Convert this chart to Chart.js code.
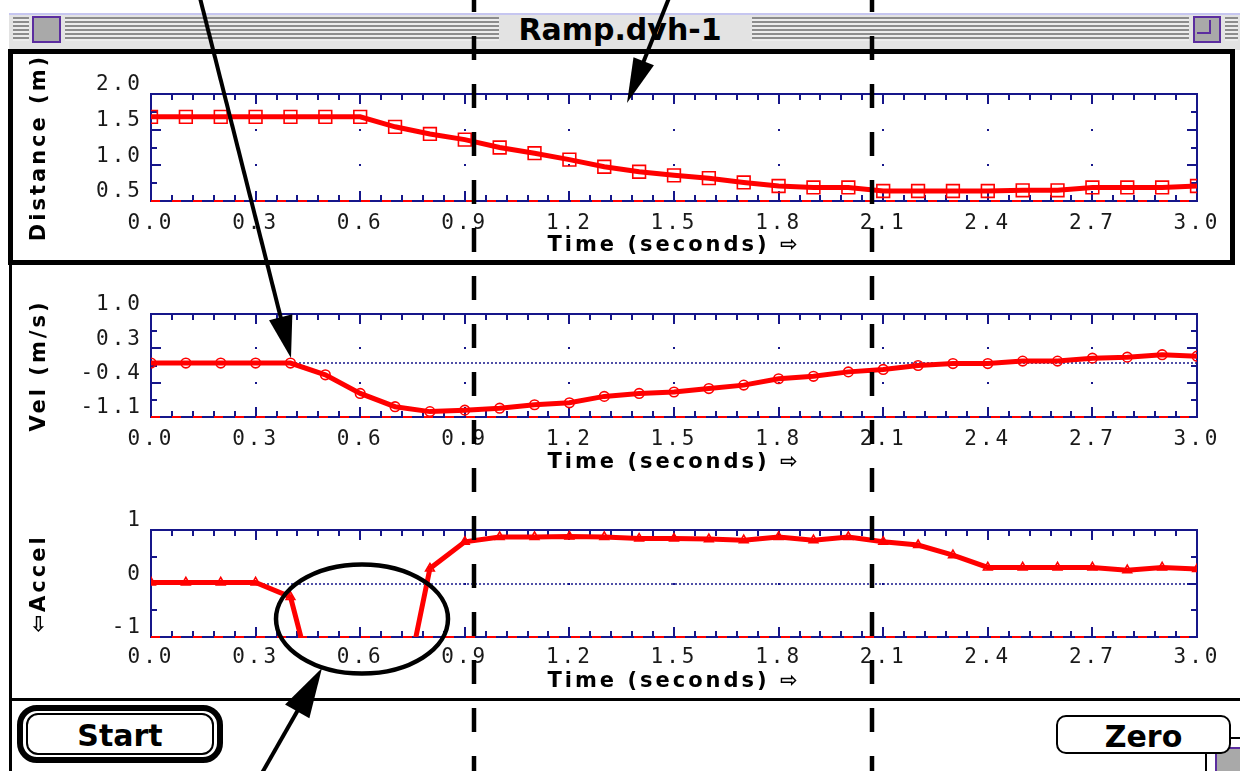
<!DOCTYPE html>
<html>
<head>
<meta charset="utf-8">
<title>Ramp.dvh-1</title>
<script src="https://cdn.jsdelivr.net/npm/chart.js@4.4.1/dist/chart.umd.min.js"></script>
<style>
  html, body { margin:0; padding:0; background:#fff; }
  body { width:1240px; height:771px; position:relative; overflow:hidden; font-family:'DejaVu Sans', sans-serif; }
  .abs { position:absolute; box-sizing:border-box; }
  #tbbg { left:9px; top:13px; width:1231px; height:37px; background:#e3e3e3; border-top:2px solid #c6c6f0; }
  .stripes { position:absolute; top:17px; height:24px;
    background:repeating-linear-gradient(to bottom, #8c8c8c 0px, #8c8c8c 2px, #ececec 2px, #ececec 4px); }
  .wbox { position:absolute; box-sizing:border-box; border:2px solid #5b2d9f; background:#a9a9a9; }
  #title { left:420px; width:400px; top:11px; height:36px; display:flex; align-items:center; justify-content:center;
    font-weight:bold; font-size:30px; color:#000; }
  #pane { left:8px; top:49px; width:1227px; height:216px; border:5px solid #000; }
  #wleft { left:9px; top:265px; width:3px; height:506px; background:#000; }
  #sep { left:9px; top:698px; width:1231px; height:3px; background:#000; }
  .btn { position:absolute; box-sizing:border-box; display:flex; align-items:center; justify-content:center;
    font-weight:bold; font-size:30px; color:#000; background:#fff; }
  #start { left:17px; top:705px; width:206px; height:58px; border:6px solid #000; border-radius:20px; padding-top:3px; }
  #startInner { position:absolute; left:3px; top:2px; right:3px; bottom:2px; border:2px solid #000; border-radius:12px; }
  #zero { left:1056px; top:715px; width:175px; height:39px; border:2px solid #000; border-radius:10px; padding-top:3px; }
  #sizebox { left:1205px; top:737px; width:40px; height:40px; border-left:2px solid #000; border-top:2px solid #000; background:#fff; }
  canvas { position:absolute; }
  #overlay { left:0; top:0; z-index:10; }
</style>
</head>
<body>
<div id="tbbg" class="abs"></div>
<div class="stripes" style="left:13px;width:16px"></div>
<div class="stripes" style="left:65px;width:434px"></div>
<div class="stripes" style="left:752px;width:437px"></div>
<div class="stripes" style="left:1225px;width:13px"></div>
<div class="wbox" style="left:32px;top:16px;width:29px;height:27px"></div>
<div class="wbox" style="left:1193px;top:16px;width:28px;height:27px"><div style="position:absolute;left:2px;top:2px;width:12px;height:12px;border-right:2px solid #5b2d9f;border-bottom:2px solid #5b2d9f"></div></div>
<div id="title" class="abs">Ramp.dvh-1</div>
<div id="pane" class="abs"></div>
<div id="wleft" class="abs"></div>
<div id="sep" class="abs"></div>
<div id="sizebox" class="abs"><div style="position:absolute;left:8px;top:8px;width:24px;height:26px;border:2px solid #5b2d9f;background:#a9a9a9"></div></div>
<div id="start" class="btn"><div id="startInner"></div><span style="position:relative">Start</span></div>
<div id="zero" class="btn">Zero</div>

<canvas id="c1" width="1215" height="206" style="left:14px;top:54px"></canvas>
<canvas id="c2" width="1215" height="212" style="left:14px;top:266px"></canvas>
<canvas id="c3" width="1215" height="216" style="left:14px;top:480px"></canvas>
<canvas id="overlay" width="1240" height="771"></canvas>

<script>
// ---------- data ----------
const TIMES = [0.0,0.1,0.2,0.3,0.4,0.5,0.6,0.7,0.8,0.9,1.0,1.1,1.2,1.3,1.4,1.5,1.6,1.7,1.8,1.9,2.0,2.1,2.2,2.3,2.4,2.5,2.6,2.7,2.8,2.9,3.0];
const DISTANCE = [1.68,1.68,1.68,1.68,1.68,1.68,1.68,1.54,1.44,1.36,1.25,1.17,1.08,0.98,0.91,0.86,0.82,0.76,0.71,0.69,0.69,0.64,0.64,0.64,0.64,0.65,0.65,0.69,0.69,0.69,0.71];
const VELOCITY = [0.0,0.0,0.0,0.0,0.0,-0.24,-0.62,-0.89,-0.99,-0.96,-0.92,-0.85,-0.81,-0.68,-0.62,-0.59,-0.52,-0.45,-0.32,-0.27,-0.18,-0.13,-0.05,-0.01,-0.01,0.04,0.04,0.10,0.12,0.17,0.14];
const ACCEL = [0.02,0.02,0.02,0.02,-0.25,-2.75,-3.2,-2.9,0.28,0.78,0.87,0.87,0.88,0.87,0.84,0.84,0.83,0.81,0.87,0.81,0.87,0.78,0.72,0.53,0.30,0.30,0.30,0.30,0.25,0.30,0.27];

const X_TICK_VALUES = [0.0,0.3,0.6,0.9,1.2,1.5,1.8,2.1,2.4,2.7,3.0];
const X_TICK_LABELS = ['0.0','0.3','0.6','0.9','1.2','1.5','1.8','2.1','2.4','2.7','3.0'];
const DIST_TICK_VALUES = [0.5,1.0,1.5,2.0];
const DIST_TICK_LABELS = ['0.5','1.0','1.5','2.0'];
const VEL_TICK_VALUES = [-1.1,-0.4,0.3,1.0];
const VEL_TICK_LABELS = ['-1.1','-0.4','0.3','1.0'];
const ACC_TICK_VALUES = [-1,0,1];
const ACC_TICK_LABELS = ['-1','0','1'];

const X_TITLE = 'Time (seconds) \u21E8';
const Y_TITLES = ['Distance (m)', 'Vel (m/s)', '\u21E6Accel'];

// annotation marks (hand drawn over the screenshot)
const MARKER_TIMES = [0.927, 2.068];

// ---------- styles ----------
const RED = '#ff0000';
const NAVY = '#16168a';
const TEXT = '#1a1a1a';
const TICK_FONT = { family:'DejaVu Sans Mono', size:21 };
const TITLE_FONT = { family:'DejaVu Sans', size:21, weight:'bold' };

const spacingPlugin = { id:'spacing', beforeDraw(chart){ chart.ctx.letterSpacing = '3px'; } };

const framePlugin = {
  id:'frame',
  beforeDatasetsDraw(chart, args, o) {
    const ctx = chart.ctx, a = chart.chartArea, x = chart.scales.x, y = chart.scales.y;
    ctx.save();
    ctx.strokeStyle = NAVY; ctx.fillStyle = NAVY; ctx.lineWidth = 2;
    const nx = Math.round((x.max - x.min) / o.xMinor);
    const ny = Math.round((y.max - y.min) / o.yMinor);
    ctx.beginPath();
    for (let i = 0; i <= nx; i++) {
      const px = Math.round(x.getPixelForValue(x.min + i * o.xMinor));
      const len = (i % o.xMajorEvery === 0) ? 10 : 6;
      ctx.moveTo(px, a.top); ctx.lineTo(px, a.top + len);
      ctx.moveTo(px, a.bottom); ctx.lineTo(px, a.bottom - len);
    }
    for (let j = 0; j <= ny; j++) {
      const py = Math.round(y.getPixelForValue(y.min + j * o.yMinor));
      const len = (j % 2 === 0) ? 10 : 6;
      ctx.moveTo(a.left, py); ctx.lineTo(a.left + len, py);
      ctx.moveTo(a.right, py); ctx.lineTo(a.right - len, py);
    }
    ctx.stroke();
    // dotted major grid (dots at intersections)
    for (let i = o.xMajorEvery; i < nx; i += o.xMajorEvery) {
      const px = Math.round(x.getPixelForValue(x.min + i * o.xMinor));
      for (let j = 2; j < ny; j += 2) {
        const py = Math.round(y.getPixelForValue(y.min + j * o.yMinor));
        ctx.fillRect(px - 1, py - 1, 2, 2);
      }
    }
    if (o.zeroLine) {
      const pz = Math.round(y.getPixelForValue(0));
      ctx.setLineDash([2, 2]); ctx.lineWidth = 1.5;
      ctx.beginPath(); ctx.moveTo(a.left, pz); ctx.lineTo(a.right, pz); ctx.stroke();
      ctx.setLineDash([]);
    }
    ctx.lineWidth = 2;
    ctx.strokeRect(a.left, a.top, a.width, a.height);
    // red dashes on the bottom edge
    ctx.strokeStyle = RED; ctx.lineWidth = 2; ctx.setLineDash([9, 12]);
    ctx.beginPath(); ctx.moveTo(a.left, a.bottom); ctx.lineTo(a.right, a.bottom); ctx.stroke();
    ctx.restore();
  }
};

function buildChart(id, cfg) {
  return new Chart(document.getElementById(id), {
    type: 'line',
    data: { datasets: [{
      data: TIMES.map((t, i) => ({ x: t, y: cfg.values[i] })),
      borderColor: RED, borderWidth: 5, tension: 0,
      pointStyle: cfg.pointStyle, pointRadius: cfg.pointRadius, pointBorderWidth: 1.6,
      pointBorderColor: RED, pointBackgroundColor: 'rgba(255,255,255,0)'
    }]},
    options: {
      responsive: false, animation: false, events: [], devicePixelRatio: 1,
      layout: { padding: { top: cfg.padTop, right: 32, bottom: 0, left: 0 } },
      plugins: { legend: { display: false }, tooltip: { enabled: false }, frame: cfg.frame },
      scales: {
        x: {
          type: 'linear', min: 0, max: 3,
          grid: { display: false, drawTicks: false }, border: { display: false },
          afterBuildTicks: s => { s.ticks = X_TICK_VALUES.map(v => ({ value: v })); },
          afterFit: s => { s.height = cfg.xAxisHeight; },
          ticks: { autoSkip: false, maxRotation: 0, minRotation: 0, padding: cfg.xTickPad, color: TEXT, font: TICK_FONT,
                   callback: (v, i) => X_TICK_LABELS[i] },
          title: { display: true, text: X_TITLE, color: '#000', font: TITLE_FONT, padding: { top: 0, bottom: cfg.xTitlePad } }
        },
        y: {
          type: 'linear', min: cfg.min, max: cfg.max,
          grid: { display: false, drawTicks: false }, border: { display: false },
          afterBuildTicks: s => { s.ticks = cfg.tickValues.map(v => ({ value: v })); },
          afterFit: s => { s.width = 137; },
          ticks: { autoSkip: false, padding: 8, labelOffset: -9, color: TEXT, font: TICK_FONT,
                   callback: (v, i) => cfg.tickLabels[i] },
          title: { display: true, text: cfg.yTitle, color: '#000', font: TITLE_FONT, padding: { top: 13, bottom: 0 } }
        }
      }
    },
    plugins: [spacingPlugin, framePlugin]
  });
}

const charts = [
  buildChart('c1', { values: DISTANCE, pointStyle: 'rect', pointRadius: 9, padTop: 40, xAxisHeight: 59, xTickPad: 10, xTitlePad: 2,
    min: 0.5, max: 2.0, tickValues: DIST_TICK_VALUES, tickLabels: DIST_TICK_LABELS, yTitle: Y_TITLES[0],
    frame: { xMinor: 0.06, xMajorEvery: 5, yMinor: 0.25, zeroLine: false } }),
  buildChart('c2', { values: VELOCITY, pointStyle: 'circle', pointRadius: 4.8, padTop: 48, xAxisHeight: 61, xTickPad: 10, xTitlePad: 3,
    min: -1.1, max: 1.0, tickValues: VEL_TICK_VALUES, tickLabels: VEL_TICK_LABELS, yTitle: Y_TITLES[1],
    frame: { xMinor: 0.06, xMajorEvery: 5, yMinor: 0.35, zeroLine: true } }),
  buildChart('c3', { values: ACCEL, pointStyle: 'triangle', pointRadius: 5, padTop: 50, xAxisHeight: 59, xTickPad: 8, xTitlePad: 2,
    min: -1, max: 1, tickValues: ACC_TICK_VALUES, tickLabels: ACC_TICK_LABELS, yTitle: Y_TITLES[2],
    frame: { xMinor: 0.06, xMajorEvery: 5, yMinor: 0.5, zeroLine: true } })
];

// ---------- hand-drawn annotations ----------
(function drawOverlay() {
  const ov = document.getElementById('overlay');
  const ctx = ov.getContext('2d');
  const c1 = document.getElementById('c1');
  const offX = c1.offsetLeft;
  ctx.strokeStyle = '#000'; ctx.fillStyle = '#000';
  ctx.lineWidth = 4.5; ctx.setLineDash([24, 24]); ctx.lineDashOffset = 12;
  MARKER_TIMES.forEach(t => {
    const px = Math.round(charts[0].scales.x.getPixelForValue(t)) + offX;
    ctx.beginPath(); ctx.moveTo(px, 0); ctx.lineTo(px, 771); ctx.stroke();
  });
  ctx.setLineDash([]);
  ctx.lineWidth = 4.5;
  ctx.beginPath(); ctx.ellipse(362, 619, 86, 54.5, 0, 0, Math.PI * 2); ctx.stroke();
  function arrow(x0, y0, x1, y1, headLen, headHalf, w) {
    const dx = x1 - x0, dy = y1 - y0, L = Math.hypot(dx, dy), ux = dx / L, uy = dy / L;
    const bx = x1 - ux * headLen, by = y1 - uy * headLen;
    ctx.lineWidth = w;
    ctx.beginPath(); ctx.moveTo(x0, y0); ctx.lineTo(bx + ux * 3, by + uy * 3); ctx.stroke();
    ctx.beginPath(); ctx.moveTo(x1, y1);
    ctx.lineTo(bx - uy * headHalf, by + ux * headHalf);
    ctx.lineTo(bx + uy * headHalf, by - ux * headHalf);
    ctx.closePath(); ctx.fill();
  }
  arrow(200, -2, 291, 358, 42, 12, 4);
  arrow(669, -2, 627, 103, 45, 11, 4);
  arrow(262, 773, 322, 668, 50, 14, 4);
})();
</script>
</body>
</html>
